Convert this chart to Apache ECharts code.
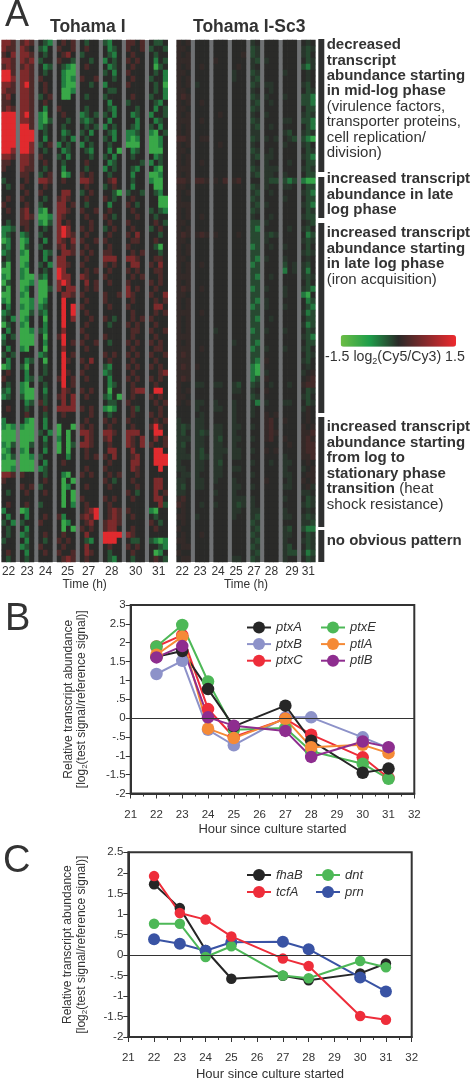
<!DOCTYPE html>
<html><head><meta charset="utf-8">
<style>html,body{margin:0;padding:0;background:#fff}#c{width:474px;height:1078px}</style>
<script src="https://cdn.jsdelivr.net/npm/echarts@6/dist/echarts.min.js"></script>
</head><body><div id="c"></div>
<script>
// ---- Panel A: expression levels, one string per gene band.
// A space is a gap between time points; letters are read as levels through the tables below.
const tohamaLevels = {G:-1.0, g:-0.55, d:-0.25, '.':0, r:0.28, R:0.65, X:1.4};
const sc3Levels = {G:-0.95, g:-0.5, d:-0.2, ',':-0.08, '.':0, ':':0.08, r:0.2};
const tohamaTimes = ['22','23','24','25','27','28','30','31'];
const sc3Times = ['22','23','24','25','27','28','29','31'];
const tohamaRows = [
"RRr rRr .dg .r.r .d.. dg.. rr.r .dd.",
"Rrr Rr. dg. r..r .r.. .gd. r..r d..d",
"r.R RRr .d. .rR. d... .dg. .r.. .d..",
"RRr RrR d.. r..d ..d. g.d. r.r. .g.d",
"rRr rRr .gd .dgG .r.. .gd. .r.. .Gd.",
"XXr RRr .d. .gGG .... d.g. r... .d.g",
"XXR RRr r.. .gGg r..r ..d. .r.. d..g",
"RRr RXr .r. .gGG ..d. g... r... .d.G",
"Rrr RRr .r. .GGg .... .dd. .... .d.g",
"rR. RRr d.r .GG. .d.. d... .r.. d..g",
"rr. RRr .r. .... .... .g.. d... .dg.",
"rRr RRr .g. r... .d.. .dg. ..d. .g.d",
"XXX RXr gG. .r.. gd.d d.g. .gd. g..d",
"XXX RRr gGd ..d. dgd. .g.. ..g. .gd.",
"XXX XXr gd. .d.. .d.d g.d. .dg. d.g.",
"XXX XXX .d. .gd. d.g. .dg. ggd. gG.d",
"XXX XXX .g. .d.g .d.. d.g. gGg. GGg.",
"XXX XXR d.r g.d. g.d. .d.. GGG. GGg.",
"XXR XXR .d. .gd. .dg. .g.G .gd. GGG.",
"RRr RRr r.. d.g. ..d. d.g. .d.. .gd.",
"rr. RRr .r. .d.. .r.. .gd. ...d g.d.",
"r.. Rrr .d. .g.. .d.. g.d. .dg. .gG.",
"... rr. d.r .Gg. r.r. .d.. .g.. GGg.",
"d.. .r. RRr .r.. RRr. .rR. .d.. gGG.",
".d. r.. .r. .... .r.. d.r. .g.. .GG.",
"... .r. r.. .RR. d.r. ..dG d..d .dg.",
".r. r.. .d. rRr. .r.. r.d. .r.. ..GG",
"r.. .r. d.. RR.r .d.. .g.. r.d. ..GG",
".r. rR. gG. RRr. r..r .r.. .r.. d.dg",
"... rRr GGg Rr.. .r.. r.d. ..r. .d..",
".d. rr. gGd R.r. ..r. .r.. r... .r.d",
"ggd .r. .d. RXR. r.r. d.r. .r.. d.r.",
"gd. gd. d.. RXRr .r.. .r.. r.R. ..d.",
"Gg. Gg. .g. Rr.R r..r r... .rr. .r..",
"dg. Gd. d.. rR.r .r.. .r.. r... .dG.",
"gd. gG. .gd .RRr r.r. rr.. .r.r ..d.",
".d. GG. .g. RR.. .r.. RRR. RRr. .rr.",
"dG. Gg. d.g RRr. r... r.r. .RR. r.R.",
"GG. gG. .d. XR.. .r.r .r.. r.r. .rr.",
"gG. gGG dg. XRR. Rr.. r... .r.r ..r.",
"Gd. GGg GG. RXR. .R.r .r.. r... r.r.",
"dG. Gg. GGd R.RR .r.r .... R.r. .r..",
"GG. gG. GG. .RRr r... r..r Rr.. r..R",
"gG. GGg Gg. .X.. .r.. r... .r.. .r.r",
".g. gGg gd. .X.X r... .r.. r... .RR.",
"gd. GGd dg. .X.X .r.. .... .r.. .r.r",
"d.g Gg. .G. .X.R ..r. r.d. .r.r r...",
"Gd. gG. .g. .X.. .r.. .d.. r.r. .r..",
".g. GGg dg. .R.. r... .... .rr. r..r",
"g.d GGG .G. rX.. .r.. r... .r.. .r..",
"d.. GGG .g. .X.r r..r .d.. r.r. r.r.",
".g. gG. .G. .R.. .r.. .... .r.. .rr.",
"d.d ... gd. .X.r .... r.r. r.r. r..r",
".g. .gd .G. .Xr. r.R. .r.. .r.. .r..",
"Gg. dG. .d. .X.. .r.. dg.. r.r. r.r.",
".r. .g. .d. .Xr. r... gd.. .r.. ..rR",
"r.. .gd d.. rX.r .r.. .g.. r.r. r.r.",
".d. gG. .d. .X.r .... .gd. .r.. .r..",
"dg. gGG .g. .Rr. r.r. .G.. .rRR .XX.",
"gd. dGG .d. rR.R .r.. dg.G .r.. r.r.",
"... .gd rd. .R.R .... .dd. r... .r.r",
".r. .d. .r. RRRR r.r. gGg. .rd. ..r.",
"... .r. .d. .r.. ..r. .d.. .r.. r.r.",
"g.. .gG .g. .... .r.. r.r. r... .r.r",
"gGg gGG .g. G..G r.r. .r.. .r.. rXr.",
"GGG GGG d.g G.G. RRr. RRr. RRR. .XX.",
"GGG GGG .g. g.G. .Rr. rR.. Rr.R .R.r",
"gGd GGd .d. G.Gd RRr. .r.. Rr.R r..r",
"Gg. gG. .g. G.G. .r.. .RR. .R.. .XX.",
"gGd GGg d.. ..g. .r.r r.R. .rR. .XXX",
"GGG GGG .g. .r.. .... .r.. .RR. .XXX",
"GGg GGG gd. .... .r.. r... .Rr. ..X.",
"RRr r.. .d. .gG. r.r. .r.r ..r. ....",
"r.. ... .r. .G.G .... r.d. .r.. .RR.",
"... r.r d.. .Gg. .r.. .r.. ..r. .RR.",
".d. .r. .r. .G.G .... .... r.d. .R.r",
"... ... ... .G.G r... r.r. .r.. .RR.",
".r. .r. d.. .G.g .r.. .r.. .... ..Rd",
"g.. Gg. ... .... .rRX .rRr r... gG..",
".g. .g. .r. rg.. rRrX .rRr .r.. .d..",
"d.g d.. r.. .Gg. .rR. rRRr .... r.d.",
".d. .g. ... .G.G r.r. rRR. .r.. .r..",
".d. gd. .r. .r.. .R.. XXXX Rr.. ....",
"d.. .g. .d. r.r. .dg. XXX. .dd. dgGg",
"... gd. r.. .r.. .R.. .r.. r.r. ..dg",
".r. .g. .r. r..r .Rr. .d.. .r.. .Gg.",
".d. .d. ... .rRr .r.. .dg. .d.. .r.d"
];
const sc3Rows = [
":.: ... ... ... ,. ... ... .,.",
"::. ... ... ... d, ... ... ,d,",
":.: ... ... ..: d, ... ... ,d.",
"::: ... :.. ... ,d ,.. ... .d,",
":.: .:. ... .:. ,. ... ... dg,",
"::. ... ... ,.. d, ... ,.. .,.",
":.: ... ... ,.. ,d ... ... .,.",
":.: ,.. ... ... d, ,,. ... ,d.",
"::. ... ... ... ,. .,. ... .d,",
":r: ... ... ... d, ,.. ,.. ddg",
":.: .:. ... ... ,d .,. ... ddg",
"::. ... ... ... d, ... ... .dd",
":.: ... .:. ... ,. ,.. ... ,d,",
"::: .:. ... ... d, ... ,,. ddg",
":.: ... ... ... ,d .,. ... .dg",
":.: ... ... ... ,, ... ,d. ,d,",
"rr: .:: ... ... d, ,., .,d dgG",
":.: ... .:. ... ,. ... ,.. ,d.",
"::. ... ... ... d, .,. ... .d,",
":.: ... ... ... ,d ,,. ... ,dg",
":.: .:. ... ... ,. ,.. .,. .dd",
"::: ... ... ... d, ,,, ... ,d,",
":.: ... ... ... ,d ,,. ,.. .dd",
"rr: rr: :.r :r. .. ,dd dgd gGG",
"::. ... ... ... d, ,.. ,,. .dd",
":.: ... ... ... ,d .,. ... ,dg",
":.. ... ... ... d, ... ,.. .dd",
"::: ... ... ... ,d ,.. ... ,dg",
":.: ... ... ... d, ... ... .d,",
":.: .:. ... ... ,. .,. ... ,dd",
"::. ... ... ... dd ,.. ... .,d",
":.: ... ... ... dg ... .,. ,d.",
":r: :r: :.. .:. dd ,d, ... .gd",
"::. ... ... ... dd ,.. ... ,d,",
":.: ... ... ... gd .,. ,.. .d.",
":.: ... ... ... dd ... ... ,d,",
"::. ... ... ... dg ,.. ,.. .,.",
":.: .:. ... ... gd ... d., ,d.",
":.: ... ... ... dd ... g., ,g.",
"::: ... ... ... dg .,. ... ,d,",
":.: ... ... ... dd ... ... .d.",
":r: .:. ... ... gd ,.. ,.. ,dg",
"::. ... ... ... dd ... ,.. gG.",
":.: ... ... ... dg ,.. ... .gd",
":.: ... ... ... gd ,.. ,.. .dg",
"::: .:. ... ... dd ... ... ,gd",
":.: ... ... ... dg .,. ... .dd",
":.: ... ... ... dd ... ... ,gd",
":.: ... ,.. ... gd ,.. ,.. .d,",
"::: ... ... ... dd ... ... ,dg",
":.: ... ... ,.. dg ... ... .dd",
"::: .:. ... ... gd ,.. ,.. ,d.",
":r: ... ... ... dd ... ... .d,",
"::: ... ... ... dg :.. ... ,d.",
":r: :.. ... ... gG ... ... .,.",
"::: ... ... ... gG ,.. ... ,.:",
":r: ... ... ... gd :.. ... .:r",
":.. ,,. ,,. ,d. d, .,. .,. :rr",
":.: ... ... ,,. ,. :.. ... .d,",
"::. ... ... ... d, ... ... ,d.",
":.: ,,. ,.. ,.. ,g ,.. ,,. .d,",
"... ,.. ,,. ,.. ,. ... ... ,:.",
"... .,. ... ,.. ,. :.: ... .:.",
",.. ,,. ... ,.. .. :r. :.. .:.",
",d, ,,. ,,. ,,. ,. :r. ... :.:",
",d. ,d, ,,. ,.. .. :r: ... ::r",
",,, ,,. ,d. ,,. ,. :r. :.. :r:",
",d. ,,. ,,. ,.. .. ... .:. :rr",
",,. ,d. ,,, ,,. ,. :.: ... :rr",
",,, ,d, ,,. ,,. .. ... ,.. ::r",
",.. ,,. ,d. ... ,. .,. ,,. .:.",
",,. ,,. ,,. ,,. .. ... ,.. ,.:",
".,, ,.. ,,. ... ,. ... ,,. .::",
",,. ,,. ,.. ,.. .. :.. .,. :.:",
",d. ,,. ... ,,. ,. ... ,,. .:,",
",,. ... ,.. ,.. .. ... ... ,,.",
":r. ... ... ,,, ,. ... ,.. .d,",
"r:. .,. ,.. ,d, ,. ... ... ,d,",
".:. ... ... ,,. ,, ... ,.. .,.",
"::. ,.. ... ,.. ,d ... ,,. ,d,",
".:. ... ... ... d, ... ... ,,d",
":.. ... ... ... ,d ... ,d. dgg",
".:. .:. ... ... d, ... ,,. .d,",
"::. ... ... ... ,d ... ,.. ,d,",
".:: ... ... ... d, ... ,d. .d,",
":.. ... ... ... ,d ... ,dd ,gd",
".:: ... ... ,,. d, ... ,.. .d,"
];

// ---- Panel B values
const hours = [22,23,24,25,27,28,30,31];
const ptxA = [1.63,1.78,0.77,-0.22,0.33,-0.6,-1.45,-1.34];
const ptxB = [1.17,1.52,-0.31,-0.72,0.02,0.02,-0.51,-0.79];
const ptxC = [1.9,2.2,0.24,-0.5,-0.02,-0.44,-1.04,-1.59];
const ptxE = [1.9,2.47,0.97,-0.31,-0.26,-0.88,-1.21,-1.61];
const ptlA = [1.68,2.16,-0.28,-0.53,-0.02,-0.77,-0.71,-0.93];
const ptlB = [1.61,1.91,0.02,-0.2,-0.34,-1.03,-0.62,-0.77];
// ---- Panel C values
const fhaB = [1.72,1.14,0.12,-0.58,-0.51,-0.62,-0.45,-0.21];
const tcfA = [1.92,1.02,0.86,0.45,-0.09,-0.27,-1.49,-1.58];
const dnt = [0.76,0.76,-0.05,0.21,-0.5,-0.57,-0.15,-0.3];
const prn = [0.38,0.27,0.1,0.31,0.32,0.14,-0.55,-0.89];

const annotations = [
 {y:45, lines:['{b|decreased}','{b|transcript}','{b|abundance starting}','{b|in mid-log phase}','{n|(virulence factors,}','{n|transporter proteins,}','{n|cell replication/}','{n|division)}']},
 {y:179.3, lines:['{b|increased transcript}','{b|abundance in late}','{b|log phase}']},
 {y:233.3, lines:['{b|increased transcript}','{b|abundance starting}','{b|in late log phase}','{n|(iron acquisition)}']},
 {y:427.3, lines:['{b|increased transcript}','{b|abundance starting}','{b|from log to}','{b|stationary phase}','{b|transition} {n|(heat}','{n|shock resistance)}']},
 {y:540.7, lines:['{b|no obvious pattern}']}
];
const clusterBars = [[39,172],[177,218],[223,413],[417,527],[530,562]];

const FONT = '"Liberation Sans", Arial, sans-serif';
const INK = '#333333';

function cells(rows,levels){
  const out=[];
  rows.forEach((row,y)=>{ [...row].forEach((ch,x)=>{ if(ch!==' ') out.push([x,y,levels[ch]]); }); });
  return out;
}
// labelShift nudges each time label sideways, in pixels, to sit where the reference puts it.
function categories(rows,labels,pick,labelShift){
  const cats=[...rows[0]].map(()=> '');
  let x=0;
  rows[0].split(' ').forEach((seg,i)=>{
    const s=labelShift[i];
    cats[x+pick(seg.length)]={value:labels[i],textStyle:{padding:s<0?[0,-2*s,0,0]:[0,0,0,2*s]}};
    x+=seg.length+1;
  });
  return cats;
}
function rowsAxis(rows,gridIndex){
  return {type:'category',gridIndex,inverse:true,show:false,data:rows.map((_,i)=>i)};
}
function heatX(rows,labels,gridIndex,pick,labelShift){
  return {type:'category',gridIndex,data:categories(rows,labels,pick,labelShift),
    axisLine:{show:false},axisTick:{show:false},splitLine:{show:false},
    axisLabel:{interval:0,margin:4,fontSize:12,color:INK,fontFamily:FONT},
    name:'Time (h)',nameLocation:'middle',nameGap:17,
    nameTextStyle:{fontSize:12,color:INK,fontFamily:FONT}};
}
function lineY(min,max,gridIndex,nameGap){
  return {type:'value',gridIndex,min,max,interval:0.5,splitLine:{show:false},
    axisLine:{show:true,lineStyle:{color:INK,width:2}},
    axisTick:{show:true,length:5,lineStyle:{color:INK,width:1}},
    axisLabel:{fontSize:11.5,color:INK,fontFamily:FONT,margin:5,padding:[5,0,0,0],
      formatter:v=>String(v).replace('0.','.')},
    name:'Relative transcript abundance\n[log{s|2}(test signal/reference signal)]',
    nameLocation:'middle',nameRotate:90,nameGap,
    nameTextStyle:{fontSize:12,lineHeight:13.5,color:INK,fontFamily:FONT,
      rich:{s:{fontSize:8,color:INK,fontFamily:FONT,verticalAlign:'bottom',lineHeight:13.5}}}};
}
function lineX(gridIndex,nameGap){
  return {type:'value',gridIndex,min:21,max:32,interval:1,splitLine:{show:false},
    axisLine:{show:true,onZero:false,lineStyle:{color:INK,width:2}},
    axisTick:{show:true,length:5,lineStyle:{color:INK,width:1}},
    minorTick:{show:true,splitNumber:2,length:3,lineStyle:{color:INK,width:1}},
    axisLabel:{fontSize:11.5,color:INK,fontFamily:FONT,margin:15},
    name:'Hour since culture started',nameLocation:'middle',nameGap,
    nameTextStyle:{fontSize:13,color:INK,fontFamily:FONT}};
}
function lineSeries(name,vals,color,size,axis,extra){
  return Object.assign({type:'line',name,xAxisIndex:axis,yAxisIndex:axis,
    data:hours.map((h,i)=>[h,vals[i]]),symbol:'circle',symbolSize:size,
    lineStyle:{color,width:2},itemStyle:{color},animation:false},extra||{});
}
const zero={markLine:{silent:true,symbol:'none',animation:false,label:{show:false},
  lineStyle:{color:INK,width:1,type:'solid'},data:[{yAxis:0}]}};

const graphic=[];
function txt(text,x,y,font,rich){
  graphic.push({type:'text',x,y,silent:true,style:{text,font,fill:INK,verticalAlign:'middle',rich}});
}
txt('A',5,16,`36px ${FONT}`);
txt('B',5,620,`38px ${FONT}`);
txt('C',3,862,`38px ${FONT}`);
txt('Tohama I',50,27,`bold 17.5px ${FONT}`);
txt('Tohama I-Sc3',193,27,`bold 17.5px ${FONT}`);
const annRich={b:{fontSize:15,fontWeight:'bold',fontFamily:FONT,fill:INK,color:INK},
               n:{fontSize:15,fontFamily:FONT,fill:INK,color:INK}};
annotations.forEach(a=>a.lines.forEach((l,i)=>txt(l,326.7,a.y+i*15.45,`15px ${FONT}`,annRich)));
txt('-1.5 log{s|2}(Cy5/Cy3) 1.5',325,356.7,`14.2px ${FONT}`,
  {s:{fontSize:9,fontFamily:FONT,color:INK,verticalAlign:'bottom',lineHeight:18}});
clusterBars.forEach(b=>graphic.push({type:'rect',silent:true,
  shape:{x:318.3,y:b[0],width:6,height:b[1]-b[0]},style:{fill:'#2f3030'}}));

const legendBase={orient:'vertical',itemWidth:24,itemHeight:15,itemGap:1.6,padding:0,
  textStyle:{fontSize:13,fontStyle:'italic',color:INK,fontFamily:FONT}};

const option={
  animation:false,backgroundColor:'#fff',
  grid:[
    {left:1.7,top:40,width:166,height:522,show:true,backgroundColor:'#6f7173',borderWidth:0,outerBoundsMode:'none'},
    {left:176.7,top:40,width:138.6,height:522,show:true,backgroundColor:'#6f7173',borderWidth:0,outerBoundsMode:'none'},
    {left:130.7,top:605,width:283.6,height:188.5,show:true,borderColor:INK,borderWidth:2,outerBoundsMode:'none'},
    {left:128.3,top:852.3,width:283.4,height:184.7,show:true,borderColor:INK,borderWidth:2,outerBoundsMode:'none'}
  ],
  xAxis:[
    heatX(tohamaRows,tohamaTimes,0,n=>Math.floor(n/2),[0,0,0,-1,-3,-3,-2,-2]),
    heatX(sc3Rows,sc3Times,1,n=>Math.floor((n-1)/2),[-1.5,-2,-2.5,-3,1,0,2,0]),
    lineX(2,29),lineX(3,31)
  ],
  yAxis:[rowsAxis(tohamaRows,0),rowsAxis(sc3Rows,1),lineY(-2,3,2,42),lineY(-2,2.5,3,40)],
  visualMap:{type:'continuous',min:-1.5,max:1.5,seriesIndex:[0,1],dimension:2,orient:'horizontal',
    left:340.7,top:335,itemWidth:11.7,itemHeight:115.3,padding:0,calculable:false,realtime:false,
    inRange:{color:['#6cbd45','#1f9e4a','#2a2a28','#8a2a2c','#ee2a2e']}},
  legend:[
    Object.assign({},legendBase,{left:246,top:621,itemGap:3.6,data:['ptxA','ptxB','ptxC']}),
    Object.assign({},legendBase,{left:320,top:621,itemGap:3.6,data:['ptxE','ptlA','ptlB']}),
    Object.assign({},legendBase,{left:246,top:868.5,itemGap:4,data:['fhaB','tcfA']}),
    Object.assign({},legendBase,{left:315,top:868.5,itemGap:4,data:['dnt','prn']})
  ],
  graphic,
  series:[
    {type:'heatmap',xAxisIndex:0,yAxisIndex:0,data:cells(tohamaRows,tohamaLevels),itemStyle:{borderWidth:0},silent:true,progressive:0},
    {type:'heatmap',xAxisIndex:1,yAxisIndex:1,data:cells(sc3Rows,sc3Levels),itemStyle:{borderWidth:0},silent:true,progressive:0},
    lineSeries('ptxB',ptxB,'#8d92c9',12.5,2,zero),
    lineSeries('ptxC',ptxC,'#ee2d3a',12.5,2),
    lineSeries('ptxE',ptxE,'#4db857',12.5,2),
    lineSeries('ptxA',ptxA,'#262626',12.5,2),
    lineSeries('ptlA',ptlA,'#f58a36',12.5,2),
    lineSeries('ptlB',ptlB,'#8e2d8f',12.5,2),
    lineSeries('fhaB',fhaB,'#262626',10.5,3,zero),
    lineSeries('prn',prn,'#3953a4',12,3),
    lineSeries('dnt',dnt,'#4db857',10.5,3),
    lineSeries('tcfA',tcfA,'#ee2d3a',10.5,3)
  ]
};
echarts.init(document.getElementById('c'),null,{renderer:'canvas'}).setOption(option);
</script></body></html>
